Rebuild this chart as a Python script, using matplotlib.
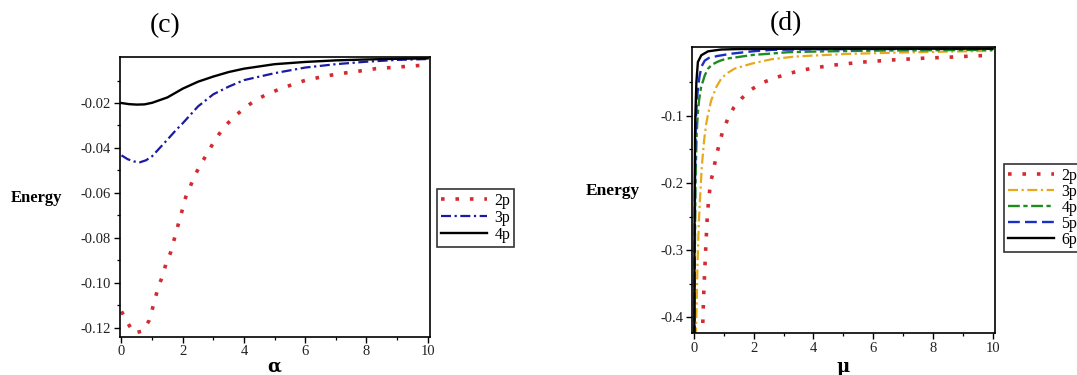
import matplotlib
matplotlib.use("Agg")
import matplotlib.pyplot as plt
from matplotlib.lines import Line2D

plt.rcParams['font.family'] = ['Liberation Serif', 'DejaVu Serif']

# ---------------- Panel (c): Energy vs alpha ----------------
alpha_2p = [0, 0.2, 0.4, 0.7, 0.9, 1.0, 1.1, 1.2, 1.35, 1.45, 1.6, 1.7, 1.8, 1.9,
            2.0, 2.1, 2.25, 2.4, 2.6, 2.8, 3.0, 3.2, 3.45, 3.75, 4.05, 4.4, 4.8,
            5.2, 5.6, 6.0, 6.7, 7.2, 7.8, 8.3, 9.2, 9.8]
E_c_2p = [-0.1128, -0.1178, -0.1225, -0.1215, -0.1169, -0.1121, -0.1071, -0.1019,
          -0.0968, -0.0917, -0.0867, -0.0818, -0.0767, -0.0718, -0.0669, -0.0618,
          -0.0570, -0.0521, -0.0470, -0.0425, -0.0377, -0.0336, -0.0293, -0.0253,
          -0.0219, -0.0185, -0.0158, -0.0136, -0.0117, -0.0099, -0.0079, -0.0068,
          -0.0057, -0.0047, -0.0038, -0.0032]

alpha_3p = [0, 0.2, 0.4, 0.6, 0.8, 1.0, 1.25, 1.5, 1.75, 2.0, 2.5, 3.0, 3.5, 4.0,
            5, 6, 7, 8, 9, 10]
E_c_3p = [-0.0433, -0.0450, -0.0460, -0.0464, -0.0455, -0.0437, -0.0400, -0.0363,
          -0.0325, -0.0290, -0.0215, -0.0161, -0.0127, -0.0098, -0.0067, -0.0042,
          -0.0027, -0.0016, -0.0008, -0.0004]

alpha_4p = [0, 0.25, 0.5, 0.75, 1.0, 1.5, 2.0, 2.5, 3.0, 3.5, 4.0, 5, 6, 7, 8, 9, 10]
E_c_4p = [-0.0200, -0.0205, -0.0207, -0.0206, -0.0199, -0.0175, -0.0136, -0.0105,
          -0.0082, -0.0062, -0.0047, -0.0027, -0.0017, -0.0010, -0.0006, -0.0003,
          -0.0001]

c_xticks = [0, 2, 4, 6, 8, 10]
c_yticks = [-0.12, -0.10, -0.08, -0.06, -0.04, -0.02]
c_yticklabels = ["-0.12", "-0.10", "-0.08", "-0.06", "-0.04", "-0.02"]
c_labels = ["2p", "3p", "4p"]

# ---------------- Panel (d): Energy vs mu ----------------
mu_2p = [0.28, 0.30, 0.33, 0.36, 0.40, 0.44, 0.48, 0.52, 0.57, 0.63, 0.69, 0.77,
         0.86, 0.97, 1.13, 1.33, 1.6, 1.92, 2.28, 2.7, 3.1, 3.55, 4.0, 4.8, 5.7,
         6.65, 7.6, 8.5, 9.4, 10.0]
E_d_2p = [-0.43, -0.40, -0.36, -0.33, -0.29, -0.255, -0.23, -0.213, -0.196, -0.186,
          -0.172, -0.156, -0.139, -0.122, -0.105, -0.088, -0.074, -0.061, -0.051,
          -0.044, -0.038, -0.033, -0.029, -0.024, -0.020, -0.017, -0.0146, -0.013,
          -0.011, -0.010]

mu_3p = [0.06, 0.09, 0.115, 0.16, 0.2, 0.26, 0.34, 0.41, 0.46, 0.57, 0.64, 0.75,
         0.91, 1.1, 1.36, 1.92, 2.59, 3.37, 4.0, 5.16, 6.9, 8.6, 10.0]
E_d_3p = [-0.43, -0.38, -0.325, -0.26, -0.225, -0.176, -0.136, -0.112, -0.100,
          -0.078, -0.070, -0.057, -0.045, -0.037, -0.030, -0.0226, -0.016, -0.012,
          -0.0105, -0.008, -0.006, -0.0045, -0.0035]

mu_4p = [0.02, 0.03, 0.05, 0.07, 0.09, 0.13, 0.17, 0.245, 0.29, 0.36, 0.47, 0.6,
         0.8, 0.91, 1.1, 1.47, 2.03, 2.3, 3.15, 4.0, 6.3, 8.0, 10.0]
E_d_4p = [-0.43, -0.30, -0.20, -0.16, -0.126, -0.095, -0.077, -0.055, -0.050,
          -0.040, -0.030, -0.024, -0.0195, -0.0176, -0.015, -0.0127, -0.0092,
          -0.0085, -0.0055, -0.0045, -0.003, -0.0025, -0.002]

mu_5p = [0.02, 0.025, 0.035, 0.05, 0.07, 0.1, 0.14, 0.19, 0.26, 0.36, 0.5, 0.8,
         1.25, 2.0, 2.6, 4.0, 6.0, 10.0]
E_d_5p = [-0.43, -0.30, -0.20, -0.13, -0.10, -0.075, -0.055, -0.040, -0.026,
          -0.018, -0.014, -0.011, -0.0077, -0.004, -0.002, -0.0012, -0.0008,
          -0.0005]

mu_6p = [0.01, 0.015, 0.025, 0.035, 0.045, 0.08, 0.13, 0.245, 0.47, 0.91, 1.5, 3.0,
         10.0]
E_d_6p = [-0.43, -0.30, -0.20, -0.13, -0.10, -0.05, -0.020, -0.010, -0.0042,
          -0.0015, -0.0008, -0.0004, -0.0002]

d_xticks = [0, 2, 4, 6, 8, 10]
d_yticks = [-0.4, -0.3, -0.2, -0.1]
d_yticklabels = ["-0.4", "-0.3", "-0.2", "-0.1"]
d_labels = ["2p", "3p", "4p", "5p", "6p"]

# ---------------- styles ----------------
RED = "#d42a32"
BLUE_C = "#1a1aa6"
ORANGE = "#e8a81c"
GREEN = "#1f8a1f"
BLUE_D = "#1a2fc4"
BLACK = "#000000"

dot = dict(ls=(0, (1, 3.0)), lw=2.6, dash_capstyle='butt')
dashdot = dict(ls=(0, (4.5, 1.6, 1.0, 1.6)), lw=1.6, dash_capstyle='butt')
longshort = dict(ls=(0, (5, 1.5, 1.8, 1.5)), lw=1.7, dash_capstyle='butt')
dashed = dict(ls=(0, (5, 2.2)), lw=1.7, dash_capstyle='butt')
solid = dict(ls='-', lw=1.7)

W, H = 1077, 375
fig = plt.figure(figsize=(W / 100, H / 100), dpi=100)
fig.patch.set_facecolor('white')


def ax_rect(x0, y0, x1, y1):
    return [x0 / W, 1 - y1 / H, (x1 - x0) / W, (y1 - y0) / H]


def style_axes(ax):
    for s in ax.spines.values():
        s.set_linewidth(1.2)
        s.set_color('black')
    ax.tick_params(which='major', direction='out', length=4, width=1.0,
                   labelsize=10.5, pad=2, colors='black', labelcolor='#222222')
    ax.tick_params(which='minor', direction='out', length=2.5, width=0.9,
                   colors='black')


# Panel (c)
axc = fig.add_axes(ax_rect(119.5, 57, 430, 337))
axc.plot(alpha_2p, E_c_2p, color=RED, **dot)
axc.plot(alpha_3p, E_c_3p, color=BLUE_C, **dashdot)
axc.plot(alpha_4p, E_c_4p, color=BLACK, **solid)
axc.set_xlim(-0.065, 10.075)
axc.set_ylim(-0.1242, 0.0005)
axc.set_xticks(c_xticks)
axc.set_xticks([1, 3, 5, 7, 9], minor=True)
axc.set_yticks(c_yticks)
axc.set_yticklabels(c_yticklabels)
axc.set_yticks([-0.11, -0.09, -0.07, -0.05, -0.03, -0.01], minor=True)
style_axes(axc)

# Panel (d)
axd = fig.add_axes(ax_rect(692.3, 46.7, 995, 333.3))
axd.plot(mu_2p, E_d_2p, color=RED, **dot)
axd.plot(mu_3p, E_d_3p, color=ORANGE, **dashdot)
axd.plot(mu_4p, E_d_4p, color=GREEN, **longshort)
axd.plot(mu_5p, E_d_5p, color=BLUE_D, **dashed)
axd.plot(mu_6p, E_d_6p, color=BLACK, **solid)
axd.set_xlim(-0.057, 10.077)
axd.set_ylim(-0.4238, 0.0027)
axd.set_xticks(d_xticks)
axd.set_xticks([1, 3, 5, 7, 9], minor=True)
axd.set_yticks(d_yticks)
axd.set_yticklabels(d_yticklabels)
axd.set_yticks([-0.35, -0.25, -0.15, -0.05], minor=True)
style_axes(axd)

# Titles, axis labels
fig.text(165 / W, 1 - 26 / H, "(c)", fontsize=20, ha='center', va='center')
fig.text(786 / W, 1 - 24 / H, "(d)", fontsize=20, ha='center', va='center')
fig.text(37 / W, 1 - 198 / H, "Energy", fontsize=12, fontweight='bold',
         ha='center', va='center')
fig.text(613 / W, 1 - 191 / H, "Energy", fontsize=12.5, fontweight='bold',
         ha='center', va='center')
fig.text(274.5 / W, 1 - 367 / H, "α", fontsize=13, fontweight='bold',
         ha='center', va='center', family=['DejaVu Serif'])
fig.text(843 / W, 1 - 367 / H, "μ", fontsize=13, fontweight='bold',
         ha='center', va='center', family=['DejaVu Serif'])

# Legends
c_handles = [Line2D([], [], color=RED, **dot),
             Line2D([], [], color=BLUE_C, **dashdot),
             Line2D([], [], color=BLACK, **solid)]
leg_c = fig.legend(c_handles, c_labels, loc='upper left',
                   bbox_to_anchor=(437 / W, 1 - 189 / H), borderaxespad=0,
                   fontsize=11.5, frameon=True, fancybox=False, shadow=False,
                   handlelength=2.9, handletextpad=0.45, labelspacing=0.05,
                   borderpad=0.25)
leg_c.get_frame().set_edgecolor('black')
leg_c.get_frame().set_linewidth(1.2)

d_handles = [Line2D([], [], color=RED, **dot),
             Line2D([], [], color=ORANGE, **dashdot),
             Line2D([], [], color=GREEN, **longshort),
             Line2D([], [], color=BLUE_D, **dashed),
             Line2D([], [], color=BLACK, **solid)]
leg_d = fig.legend(d_handles, d_labels, loc='upper left',
                   bbox_to_anchor=(1004 / W, 1 - 164 / H), borderaxespad=0,
                   fontsize=11.5, frameon=True, fancybox=False, shadow=False,
                   handlelength=2.9, handletextpad=0.45, labelspacing=0.0,
                   borderpad=0.25)
leg_d.get_frame().set_edgecolor('black')
leg_d.get_frame().set_linewidth(1.2)

fig.savefig("out.png", dpi=100, facecolor='white')
